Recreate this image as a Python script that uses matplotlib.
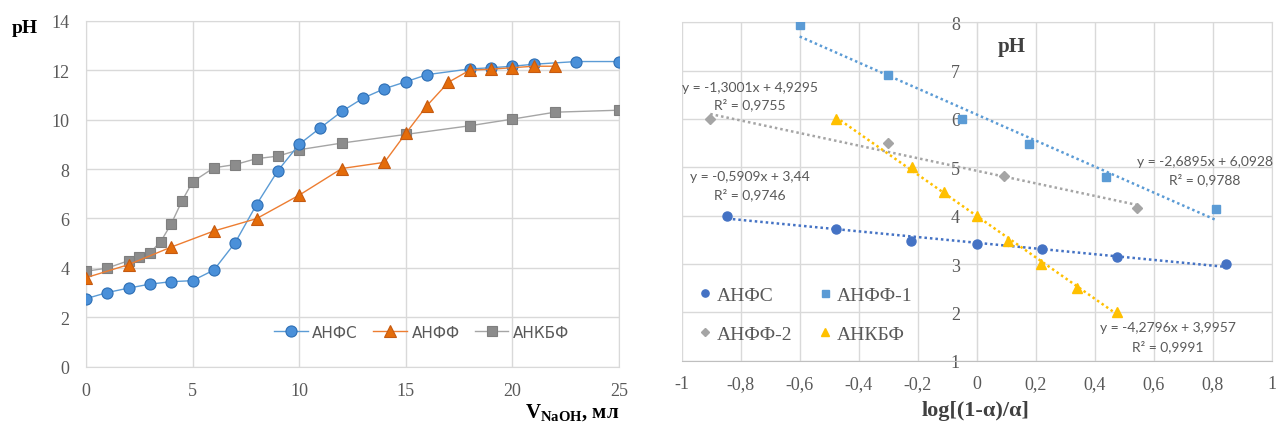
import matplotlib
matplotlib.use("Agg")
import matplotlib.pyplot as plt
import numpy as np

plt.rcParams['mathtext.fontset'] = 'custom'
plt.rcParams['mathtext.rm'] = 'Liberation Serif'
plt.rcParams['mathtext.bf'] = 'Liberation Serif:bold'

# left chart: titration curves
v_anfs = [0, 1, 2, 3, 4, 5, 6, 7, 8, 9, 10, 11, 12, 13, 14, 15, 16, 18, 19, 20, 21, 23, 25]
ph_anfs = [2.75, 3.0, 3.18, 3.34, 3.44, 3.48, 3.91, 5.02, 6.56, 7.93, 9.0, 9.67, 10.33,
           10.87, 11.25, 11.53, 11.82, 12.05, 12.1, 12.16, 12.24, 12.35, 12.35]
v_anff = [0, 2, 4, 6, 8, 10, 12, 14, 15, 16, 17, 18, 19, 20, 21, 22]
ph_anff = [3.6, 4.13, 4.84, 5.49, 5.99, 6.94, 8.02, 8.27, 9.44, 10.57, 11.51, 12.0,
           12.04, 12.1, 12.16, 12.16]
v_ankbf = [0, 1, 2, 2.5, 3, 3.5, 4, 4.5, 5, 6, 7, 8, 9, 10, 12, 15, 18, 20, 22, 25]
ph_ankbf = [3.86, 3.99, 4.29, 4.45, 4.61, 5.05, 5.78, 6.7, 7.48, 8.05, 8.18, 8.42, 8.52,
            8.78, 9.05, 9.4, 9.75, 10.02, 10.3, 10.38]

# right chart: pH vs log[(1-a)/a]
x_anfs = [-0.845, -0.477, -0.222, 0.0, 0.222, 0.477, 0.845]
y_anfs = [4.0, 3.73, 3.48, 3.42, 3.31, 3.15, 3.0]
x_anff1 = [-0.6, -0.3, -0.05, 0.176, 0.438, 0.813]
y_anff1 = [7.95, 6.92, 6.0, 5.49, 4.8, 4.14]
x_anff2 = [-0.903, -0.3, 0.094, 0.544]
y_anff2 = [6.0, 5.5, 4.82, 4.16]
x_ankbf = [-0.477, -0.22, -0.111, 0.0, 0.107, 0.218, 0.341, 0.477]
y_ankbf = [6.0, 5.0, 4.5, 4.0, 3.48, 3.0, 2.5, 2.0]

# trendline coefficients (slope, intercept, R2) as shown in the chart
fit_anfs = (-0.5909, 3.44, 0.9746)
fit_anff1 = (-2.6895, 6.0928, 0.9788)
fit_anff2 = (-1.3001, 4.9295, 0.9755)
fit_ankbf = (-4.2796, 3.9957, 0.9991)

tick_gray = '#595959'
grid_gray = '#d9d9d9'

fig = plt.figure(figsize=(12.77, 4.27), dpi=100)

# ---------------- left chart
ax1 = fig.add_axes([0.0673, 0.139, 0.4174, 0.810])
ax1.plot(v_anfs, ph_anfs, color='#5B9BD5', lw=1, marker='o', ms=8,
         mfc='#4a90d9', mec='#2e6fb5', mew=0.8, label='АНФС', zorder=4)
ax1.plot(v_anff, ph_anff, color='#ED7D31', lw=1, marker='^', ms=9,
         mfc='#E46C0A', mec='#c55a11', mew=0.8, label='АНФФ', zorder=5)
ax1.plot(v_ankbf, ph_ankbf, color='#A5A5A5', lw=1, marker='s', ms=7.5,
         mfc='#8c8c8c', mec='#7f7f7f', mew=0.8, label='АНКБФ', zorder=3)
ax1.set_xlim(0, 25)
ax1.set_ylim(0, 14)
ax1.set_xticks(np.arange(0, 26, 5))
ax1.set_yticks(np.arange(0, 15, 2))
ax1.grid(True, color=grid_gray, lw=1)
ax1.set_axisbelow(True)
for s in ax1.spines.values():
    s.set_color(grid_gray)
ax1.tick_params(length=0, labelcolor=tick_gray, labelsize=13, pad=12)
ax1.tick_params(axis='x', pad=11)
for lab in ax1.get_xticklabels() + ax1.get_yticklabels():
    lab.set_fontfamily('Liberation Serif')
leg1 = ax1.legend(loc='center', bbox_to_anchor=(0.63, 0.1), ncol=3, frameon=False,
                  prop={'family': 'DejaVu Sans', 'size': 11}, handlelength=2.2,
                  columnspacing=1.0, handletextpad=0.3, markerscale=1.0)
for t in leg1.get_texts():
    t.set_color(tick_gray)
fig.text(0.009, 0.934, 'pH', fontsize=14, fontweight='bold', family='Liberation Serif',
         ha='left', va='center')
fig.text(0.485, 0.032, r'$\mathbf{V}_{\mathbf{NaOH}}$, мл', fontsize=15, fontweight='bold',
         family='Liberation Serif', ha='right', va='center')

# ---------------- right chart
ax2 = fig.add_axes([0.5338, 0.1529, 0.462, 0.7925])
series = [
    (x_anfs, y_anfs, fit_anfs, '#4472C4', 'o', 6.5, 'АНФС'),
    (x_anff1, y_anff1, fit_anff1, '#5B9BD5', 's', 6.3, 'АНФФ-1'),
    (x_anff2, y_anff2, fit_anff2, '#A5A5A5', 'D', 5, 'АНФФ-2'),
    (x_ankbf, y_ankbf, fit_ankbf, '#FFC000', '^', 7.5, 'АНКБФ'),
]
handles = {}
for xs, ys, fit, col, mk, ms, name in series:
    h, = ax2.plot(xs, ys, ls='none', marker=mk, ms=ms, color=col, label=name, zorder=4)
    handles[name] = h
    xx = np.array([min(xs), max(xs)])
    ax2.plot(xx, fit[0] * xx + fit[1], ls=(0, (1.0, 1.2)), lw=1.8, color=col, zorder=3)

ax2.set_xlim(-1, 1)
ax2.set_ylim(1, 8)
xt = np.round(np.arange(-1, 1.01, 0.2), 1)
ax2.set_xticks(xt)
ax2.set_xticklabels([('%g' % v).replace('.', ',') if v != 0 else '0' for v in xt])
ax2.set_yticks(np.arange(1, 9, 1))
ax2.grid(True, color=grid_gray, lw=1)
ax2.set_axisbelow(True)
ax2.spines['left'].set_position(('data', 0))
for s in ax2.spines.values():
    s.set_color(grid_gray)
ax2.spines['bottom'].set_color('#bfbfbf')
ax2.tick_params(length=0, labelcolor=tick_gray, labelsize=13)
ax2.tick_params(axis='x', pad=10)
ax2.tick_params(axis='y', pad=12)
for lab in ax2.get_xticklabels() + ax2.get_yticklabels():
    lab.set_fontfamily('Liberation Serif')

eq_kw = dict(fontsize=10, color=tick_gray, family='Lato', ha='center', va='center')


def eq_text(fit):
    s = 'y = %sx + %s' % (('%.4f' % fit[0]).replace('.', ','), ('%g' % fit[1]).replace('.', ','))
    r = 'R² = %s' % ('%.4f' % fit[2]).replace('.', ',')
    return s, r


s, r = eq_text(fit_anff2)
ax2.text(-0.77, 6.67, s, **eq_kw)
ax2.text(-0.77, 6.31, r, **eq_kw)
s, r = eq_text(fit_anfs)
ax2.text(-0.768, 4.83, s, **eq_kw)
ax2.text(-0.768, 4.45, r, **eq_kw)
s, r = eq_text(fit_anff1)
ax2.text(0.774, 5.14, s, **eq_kw)
ax2.text(0.774, 4.76, r, **eq_kw)
s, r = eq_text(fit_ankbf)
ax2.text(0.648, 1.69, s, **eq_kw)
ax2.text(0.648, 1.31, r, **eq_kw)

ax2.text(0.559, 0.931, 'pH', transform=ax2.transAxes, fontsize=15, fontweight='bold',
         family='Liberation Serif', color='#404040', ha='center', va='center')

order = ['АНФС', 'АНФФ-2', 'АНФФ-1', 'АНКБФ']
leg2 = ax2.legend([handles[k] for k in order], order, loc='lower left',
                  bbox_to_anchor=(0.0, 0.0), ncol=2, frameon=False,
                  prop={'family': 'Liberation Serif', 'size': 14}, handlelength=0.6,
                  handletextpad=0.3, columnspacing=1.4, labelspacing=1.1, markerscale=0.8)
for t in leg2.get_texts():
    t.set_color(tick_gray)
fig.text(0.764, 0.038, 'log[(1-α)/α]', fontsize=16, fontweight='bold',
         family='Liberation Serif', ha='center', va='center', color='#404040')

fig.savefig('out.png', dpi=100)
